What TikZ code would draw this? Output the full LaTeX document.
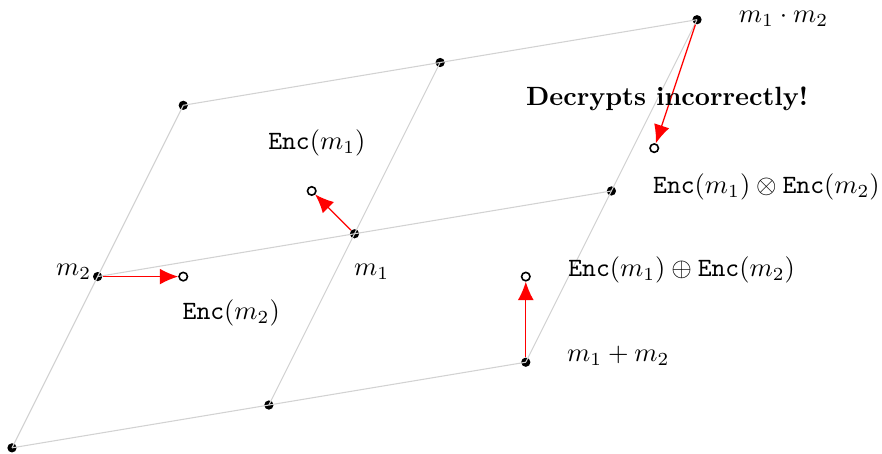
\documentclass[tikz,border=0pt]{standalone}
\usetikzlibrary{arrows.meta}
\begin{document}
\begin{tikzpicture}[x=1.14cm,y=1.14cm,>={Latex[length=7pt,width=6pt]},
	pt/.style={circle,fill,inner sep=0pt,minimum size=3.5pt},
	enc/.style={circle,draw,line width=0.6pt,inner sep=0pt,minimum size=3.2pt},
	lat/.style={gray!35,line width=0.4pt},
	noise/.style={->,red,line width=0.5pt}]
	\useasboundingbox (-0.14,-0.07) rectangle (10.16,5.23);
	\foreach \i in {0,1,2} \foreach \j in {0,1,2}
		\node[pt] (p\i\j) at ({3*\i+\j},{0.5*\i+2*\j}) {};
	\foreach \k in {0,1,2} {
		\draw[lat] (p0\k.center)--(p2\k.center);
		\draw[lat] (p\k0.center)--(p\k2.center);
	}
	\node[enc] (e1) at (3.5,3) {};
	\node[enc] (e2) at (2,2) {};
	\node[enc] (es) at (6,2) {};
	\node[enc] (ep) at (7.5,3.5) {};
	\draw[noise] (p11)--(e1);
	\draw[noise] (p01)--(e2);
	\draw[noise] (p20)--(es);
	\draw[noise] (p22)--(ep);
	\node (lm1) at (4.2,2.06) {$m_1$};
	\node (lm2) at (0.72,2.06) {$m_2$};
	\node (lsum) at (7.08,1.07) {$m_1+m_2$};
	\node (lprod) at (9.01,5.01) {$m_1\cdot m_2$};
	\node (le1) at (3.56,3.56) {$\texttt{Enc}(m_1)$};
	\node (le2) at (2.56,1.58) {$\texttt{Enc}(m_2)$};
	\node (les) at (7.82,2.08) {$\texttt{Enc}(m_1)\oplus\texttt{Enc}(m_2)$};
	\node (lep) at (8.81,3.05) {$\texttt{Enc}(m_1)\otimes\texttt{Enc}(m_2)$};
	\node (ldec) at (7.65,4.07) {\textbf{Decrypts incorrectly!}};
\end{tikzpicture}
\end{document}
